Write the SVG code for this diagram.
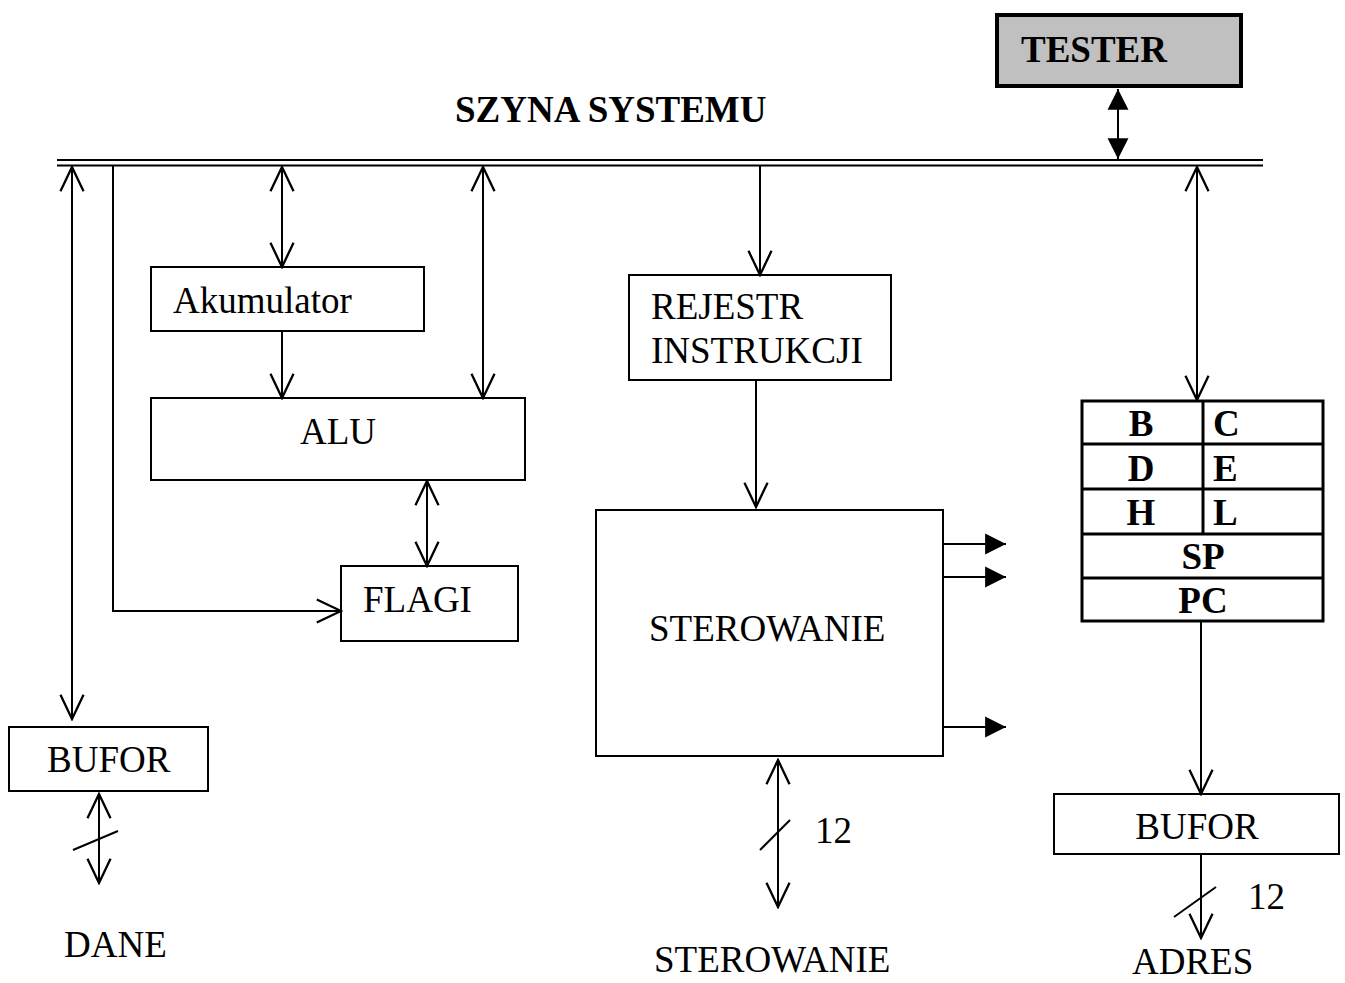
<svg xmlns="http://www.w3.org/2000/svg" width="1345" height="983" viewBox="0 0 1345 983">
<style>
.box{fill:#fff;stroke:#000;stroke-width:2}
.t{font-family:"Liberation Serif","Times New Roman",serif;font-size:37px;fill:#000}
.b{font-weight:bold}
.c{fill:none;stroke:#000;stroke-width:2}
</style>
<defs>
<marker id="open" markerUnits="userSpaceOnUse" markerWidth="30" markerHeight="30" viewBox="-24 -12 26 24" refX="0" refY="0" orient="auto-start-reverse">
<path d="M-21,-10 L0,0 L-21,10" fill="none" stroke="#000" stroke-width="2"/>
</marker>
<marker id="fill" markerUnits="userSpaceOnUse" markerWidth="24" markerHeight="24" viewBox="-22 -11 23 22" refX="0" refY="0" orient="auto-start-reverse">
<path d="M-20,-10 L0,0 L-20,10 Z" fill="#000"/>
</marker>
</defs>
<rect width="1345" height="983" fill="#fff"/>

<g id="bus">
<line x1="57" y1="160" x2="1263" y2="160" stroke="#000" stroke-width="2"/>
<line x1="57" y1="165.5" x2="1263" y2="165.5" stroke="#000" stroke-width="2"/>
<text class="t b" x="455" y="122">SZYNA SYSTEMU</text>
</g>

<g id="tester">
<rect x="997" y="15" width="244" height="71" fill="#c0c0c0" stroke="#000" stroke-width="4"/>
<text class="t b" x="1021" y="62">TESTER</text>
</g>

<g id="akumulator">
<rect class="box" x="151" y="267" width="273" height="64"/>
<text class="t" x="173" y="313">Akumulator</text>
</g>
<g id="alu">
<rect class="box" x="151" y="398" width="374" height="82"/>
<text class="t" x="300" y="444">ALU</text>
</g>
<g id="flagi">
<rect class="box" x="341" y="566" width="177" height="75"/>
<text class="t" x="363" y="612">FLAGI</text>
</g>
<g id="bufor-dane">
<rect class="box" x="9" y="727" width="199" height="64"/>
<text class="t" x="47" y="772">BUFOR</text>
</g>
<g id="rejestr">
<rect class="box" x="629" y="275" width="262" height="105"/>
<text class="t" x="651" y="319">REJESTR</text>
<text class="t" x="651" y="363">INSTRUKCJI</text>
</g>
<g id="sterowanie">
<rect class="box" x="596" y="510" width="347" height="246"/>
<text class="t" x="649" y="641">STEROWANIE</text>
</g>
<g id="rejestry">
<rect x="1082" y="401" width="241" height="220" fill="#fff" stroke="#000" stroke-width="3"/>
<line x1="1082" y1="444" x2="1323" y2="444" stroke="#000" stroke-width="3"/>
<line x1="1082" y1="489" x2="1323" y2="489" stroke="#000" stroke-width="3"/>
<line x1="1082" y1="534" x2="1323" y2="534" stroke="#000" stroke-width="3"/>
<line x1="1082" y1="578" x2="1323" y2="578" stroke="#000" stroke-width="3"/>
<line x1="1203" y1="401" x2="1203" y2="534" stroke="#000" stroke-width="3"/>
<text class="t b" x="1141" y="436" text-anchor="middle">B</text>
<text class="t b" x="1213" y="436">C</text>
<text class="t b" x="1141" y="481" text-anchor="middle">D</text>
<text class="t b" x="1213" y="481">E</text>
<text class="t b" x="1141" y="525" text-anchor="middle">H</text>
<text class="t b" x="1213" y="525">L</text>
<text class="t b" x="1203" y="569" text-anchor="middle">SP</text>
<text class="t b" x="1203" y="613" text-anchor="middle">PC</text>
</g>
<g id="bufor-adres">
<rect class="box" x="1054" y="794" width="285" height="60"/>
<text class="t" x="1197" y="839" text-anchor="middle">BUFOR</text>
</g>
<g id="labels">
<text class="t" x="64" y="957">DANE</text>
<text class="t" x="654" y="972">STEROWANIE</text>
<text class="t" x="1132" y="974">ADRES</text>
<text class="t" x="815" y="843">12</text>
<text class="t" x="1248" y="909">12</text>
</g>

<g id="connectors">
<line class="c" x1="1118" y1="89" x2="1118" y2="159" marker-start="url(#fill)" marker-end="url(#fill)"/>
<line class="c" x1="72" y1="167" x2="72" y2="719" marker-start="url(#open)" marker-end="url(#open)"/>
<polyline class="c" points="113,166 113,611 341,611" marker-end="url(#open)"/>
<line class="c" x1="282" y1="167" x2="282" y2="267" marker-start="url(#open)" marker-end="url(#open)"/>
<line class="c" x1="483" y1="167" x2="483" y2="398" marker-start="url(#open)" marker-end="url(#open)"/>
<line class="c" x1="282" y1="331" x2="282" y2="398" marker-end="url(#open)"/>
<line class="c" x1="427" y1="481" x2="427" y2="566" marker-start="url(#open)" marker-end="url(#open)"/>
<line class="c" x1="760" y1="166" x2="760" y2="275" marker-end="url(#open)"/>
<line class="c" x1="756" y1="380" x2="756" y2="507" marker-end="url(#open)"/>
<line class="c" x1="943" y1="544" x2="1006" y2="544" marker-end="url(#fill)"/>
<line class="c" x1="943" y1="577" x2="1006" y2="577" marker-end="url(#fill)"/>
<line class="c" x1="943" y1="727" x2="1006" y2="727" marker-end="url(#fill)"/>
<line class="c" x1="1197" y1="167" x2="1197" y2="400" marker-start="url(#open)" marker-end="url(#open)"/>
<line class="c" x1="1201" y1="622" x2="1201" y2="794" marker-end="url(#open)"/>
<line class="c" x1="1201" y1="854" x2="1201" y2="938" marker-end="url(#open)"/>
<line class="c" x1="1174" y1="917" x2="1216" y2="887"/>
<line class="c" x1="778" y1="760" x2="778" y2="907" marker-start="url(#open)" marker-end="url(#open)"/>
<line class="c" x1="760" y1="850" x2="790" y2="820"/>
<line class="c" x1="99" y1="794" x2="99" y2="883" marker-start="url(#open)" marker-end="url(#open)"/>
<line class="c" x1="73" y1="850" x2="118" y2="831"/>
</g>
</svg>
